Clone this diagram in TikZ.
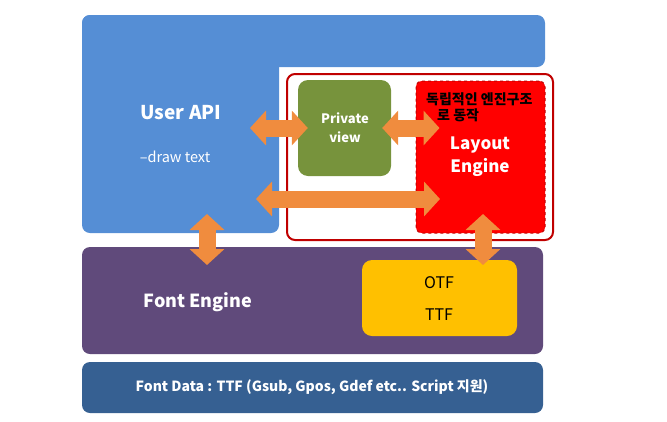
\documentclass[tikz,border=0pt]{standalone}
\usepackage{fontspec}
\setmainfont{Noto Sans CJK KR}
\usetikzlibrary{arrows.meta}
\definecolor{ublue}{HTML}{558ED5}
\definecolor{pgreen}{HTML}{77933C}
\definecolor{fpurple}{HTML}{604A7B}
\definecolor{fyellow}{HTML}{FFC000}
\definecolor{dblue}{HTML}{366092}
\definecolor{dred}{HTML}{C00000}
\definecolor{aorange}{HTML}{F08C3E}
\begin{document}
\begin{tikzpicture}[x=1pt,y=-1pt,
  blk/.style={rounded corners=#1, inner sep=0pt},
  wtext/.style={text=white, align=center, inner sep=0pt},
  btext/.style={text=black, align=center, inner sep=0pt},
  fatarrow/.style={draw=aorange, line width=17pt,
    {Triangle[width=34pt,length=16pt]}-{Triangle[width=34pt,length=16pt]}}]
\useasboundingbox (0,0) rectangle (667,421);
% User API L-shape
\fill[ublue, rounded corners=8pt] (82,15) rectangle (545,67);
\fill[ublue, rounded corners=8pt] (82,15) rectangle (279,233);
\node[wtext, font=\bfseries\fontsize{19}{24}\selectfont] (uapi) at (181,113) {User API};
\node[wtext, font=\fontsize{14.5}{17}\selectfont] (dtext) at (175,157) {–draw text};
% red outline group
\draw[dred, line width=2pt, rounded corners=8pt] (287,74) rectangle (553,240);
% private view
\node[blk=10pt, fill=pgreen, minimum width=93pt, minimum height=96pt] (pv) at (344.5,128) {};
\node[wtext, font=\bfseries\fontsize{13}{19}\selectfont] (pvt) at (345,128) {Private\\view};
% layout engine
\node[blk=6pt, fill=red, draw=dred, dashed, line width=1pt, minimum width=129pt, minimum height=152pt] (le) at (480.5,157) {};
\node[btext, anchor=west, font=\bfseries\fontsize{14}{16}\selectfont] (k1) at (426,99) {독립적인 엔진구조};
\node[btext, anchor=west, font=\bfseries\fontsize{14}{16}\selectfont] (k2) at (437,115) {로 동작};
\node[wtext, font=\bfseries\fontsize{17}{23}\selectfont] (let) at (480,157) {Layout\\Engine};
% font engine
\node[blk=8pt, fill=fpurple, minimum width=461pt, minimum height=107pt] (fe) at (312.5,300.5) {};
\node[wtext, font=\bfseries\fontsize{18}{23}\selectfont] (fet) at (198,302) {Font Engine};
\node[blk=10pt, fill=fyellow, minimum width=155pt, minimum height=76pt] (ot) at (439.5,298) {};
\node[btext, font=\fontsize{16}{32}\selectfont] (ott) at (439,299) {OTF\\TTF};
% font data
\node[blk=8pt, fill=dblue, minimum width=461pt, minimum height=51pt] (fd) at (312.5,387.5) {};
\node[wtext, font=\bfseries\fontsize{14}{17}\selectfont] (fdt) at (312,387) {Font Data : TTF (Gsub, Gpos, Gdef etc.. Script 지원)};
% arrows
\coordinate (a1s) at (250,128);
\coordinate (a3s) at (256,199);
\coordinate (a3e) at (440,199);
\coordinate (a4s) at (207,214);
\coordinate (a4e) at (207,265);
\coordinate (a5s) at (483,214);
\coordinate (a5e) at (483,265);
\draw[fatarrow] (a1s) -- ([xshift=10pt]pv.west);
\draw[fatarrow] ([xshift=-9pt]pv.east) -- ([xshift=24pt]pv.east -| le.west);
\draw[fatarrow] (a3s) -- (a3e);
\draw[fatarrow] (a4s) -- (a4e);
\draw[fatarrow] (a5s) -- (a5e);
\end{tikzpicture}
\end{document}
